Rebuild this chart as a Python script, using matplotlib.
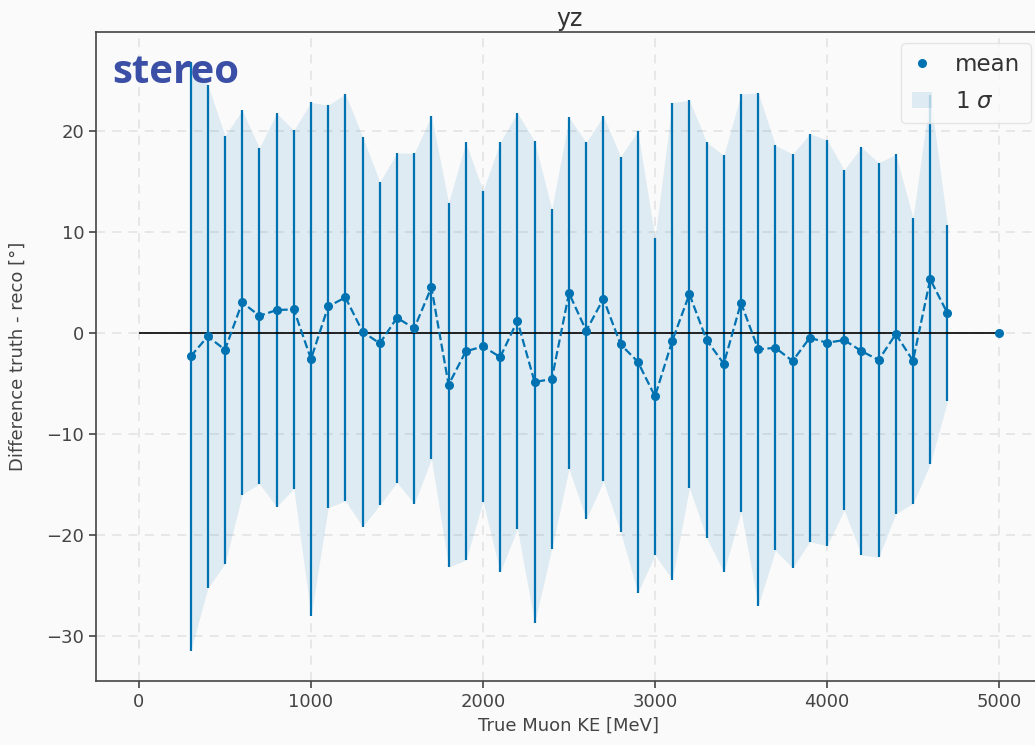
import numpy as np
import matplotlib.pyplot as plt

# bin centres of true muon KE [MeV]
ke = np.arange(300, 5001, 100)

# mean of (truth - reco) per bin [deg]; 4800 and 4900 are empty
mean = [-2.34, -0.36, -1.68, 3.01, 1.68, 2.25, 2.32, -2.60, 2.61, 3.50,
        0.10, -1.05, 1.49, 0.43, 4.49, -5.15, -1.84, -1.35, -2.41, 1.19,
        -4.88, -4.58, 3.93, 0.20, 3.37, -1.15, -2.87, -6.30, -0.82, 3.83,
        -0.72, -3.07, 2.97, -1.64, -1.49, -2.80, -0.49, -0.99, -0.72, -1.81,
        -2.70, -0.13, -2.77, 5.30, 1.95, np.nan, np.nan, 0.0]

# standard deviation per bin [deg]
sigma = [29.2, 24.95, 21.2, 19.04, 16.64, 19.5, 17.75, 25.44, 19.93, 20.16,
         19.31, 16.0, 16.33, 17.36, 17.0, 18.05, 20.7, 15.4, 21.3, 20.6,
         23.85, 16.8, 17.4, 18.66, 18.1, 18.6, 22.87, 15.7, 23.63, 19.2,
         19.6, 20.64, 20.7, 25.4, 20.07, 20.5, 20.2, 20.1, 16.85, 20.2,
         19.55, 17.8, 14.15, 18.3, 8.75, np.nan, np.nan, 0.0]

mean = np.array(mean)
sigma = np.array(sigma)
color = '#0072B2'
bg = '#fafafa'

plt.rcParams['font.family'] = ['DejaVu Sans']
fig = plt.figure(figsize=(10.35, 7.45), dpi=100, facecolor=bg)
ax = fig.add_axes([96 / 1035, 64 / 745, 946 / 1035, 649 / 745])
ax.set_facecolor(bg)

ax.grid(True, linestyle=(0, (5, 4)), color='#e6e6e6', linewidth=1.3, zorder=0)
ax.set_axisbelow(True)

# band and error bars only where sigma is non-zero
band = ~np.isnan(sigma) & (sigma > 0)
ax.fill_between(ke[band], mean[band] - sigma[band], mean[band] + sigma[band],
                color=color, alpha=0.11, linewidth=0, label=r'1 $\sigma$', zorder=1)
ax.errorbar(ke[band], mean[band], yerr=sigma[band], fmt='none',
            ecolor=color, elinewidth=1.6, capsize=0, zorder=2)
ax.hlines(0, 0, 5000, color='black', linewidth=1.2, zorder=3)
ax.plot(ke, mean, '--', color=color, linewidth=1.6, zorder=4)
ax.plot(ke, mean, 'o', color=color, markersize=5.5, label='mean', zorder=5)

ax.set_xlim(-250, 5250)
ax.set_ylim(-34.5, 29.8)
ax.set_yticks([-30, -20, -10, 0, 10, 20])
ax.set_xticks([0, 1000, 2000, 3000, 4000, 5000])
ax.tick_params(labelsize=13, colors='#444444', length=5, width=1.2)

for s in ax.spines.values():
    s.set_color('#444444')
    s.set_linewidth(1.2)

ax.set_xlabel('True Muon KE [MeV]', fontsize=13, color='#444444', labelpad=4)
ax.set_ylabel('Difference truth - reco [°]', fontsize=13, color='#444444',
              labelpad=14)
ax.set_title('yz', fontsize=17, color='#333333', pad=4)

ax.text(0.017, 0.938, 'stereo', transform=ax.transAxes, fontsize=29,
        fontweight='bold', color='#3a4fa5', family='Open Sans', va='center')

handles, labels = ax.get_legend_handles_labels()
order = [labels.index('mean'), labels.index(r'1 $\sigma$')]
leg = ax.legend([handles[i] for i in order], [labels[i] for i in order],
                loc='upper right', bbox_to_anchor=(0.988, 0.983), fontsize=16.5,
                frameon=True, fancybox=True, framealpha=0.8,
                edgecolor='#e0e0e0', facecolor=bg, handletextpad=1.0,
                handlelength=0.9, borderpad=0.45, labelspacing=0.6,
                borderaxespad=0)
leg.get_frame().set_linewidth(1.0)
for t in leg.get_texts():
    t.set_color('#333333')

plt.savefig('out.png', dpi=100, facecolor=bg)
